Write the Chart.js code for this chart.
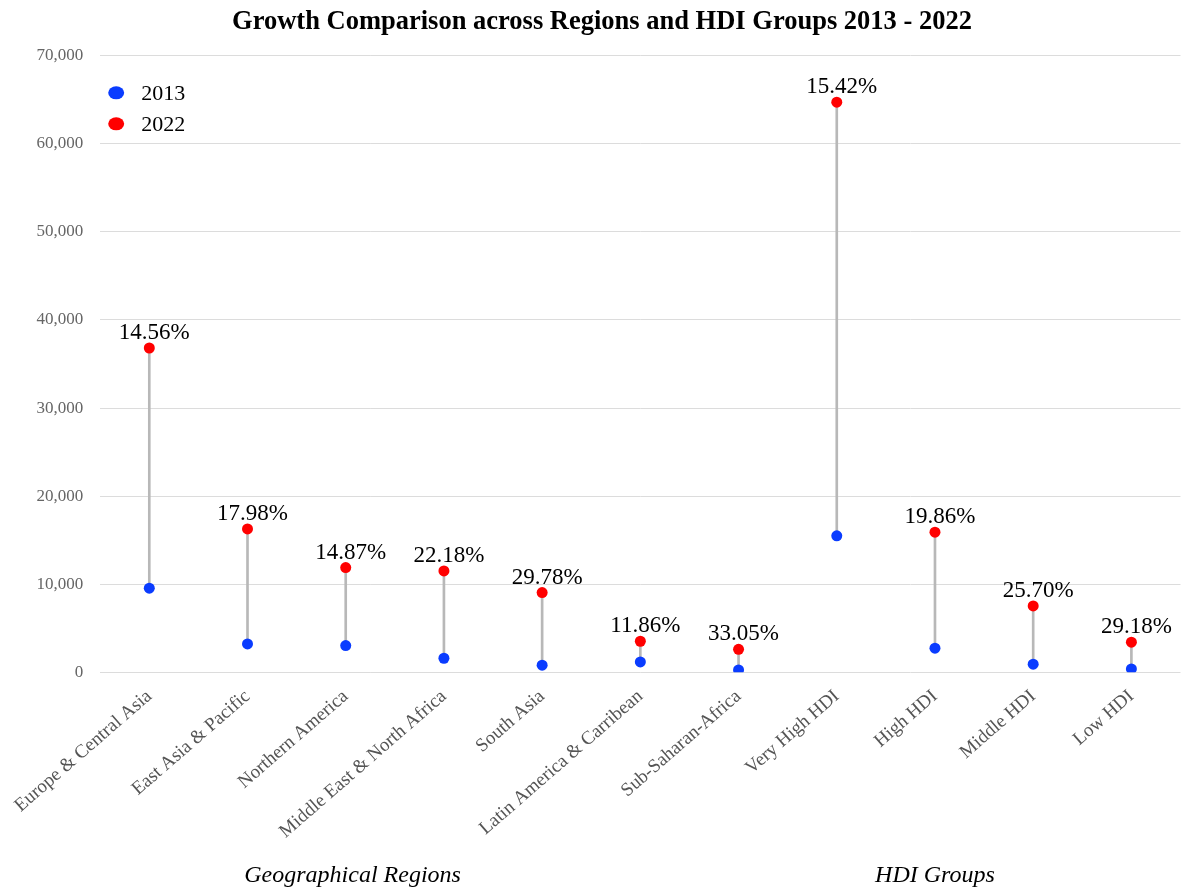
<!DOCTYPE html>
<html>
<head>
<meta charset="utf-8">
<script src="https://cdn.jsdelivr.net/npm/chart.js@4.4.1/dist/chart.umd.min.js"></script>
<style>
body{margin:0;background:#fff}
#wrap{width:1186px;height:889px}
</style>
</head>
<body>
<div id="wrap"><canvas id="cv" width="1186" height="889"></canvas></div>
<script>
// daten
const categories = ["Europe & Central Asia", "East Asia & Pacific", "Northern America", "Middle East & North Africa",
    "South Asia", "Latin America & Carribean", "Sub-Saharan-Africa", "Very High HDI", "High HDI", "Middle HDI", "Low HDI"];
const values2013 = [9550, 3220, 3030, 1590, 800, 1170, 260, 15490, 2730, 910, 380];
const values2022 = [36820, 16280, 11890, 11510, 9050, 3520, 2610, 64730, 15910, 7530, 3410];
const growthLabels = ["14.56%", "17.98%", "14.87%", "22.18%", "29.78%", "11.86%", "33.05%", "15.42%", "19.86%", "25.70%", "29.18%"];
const groupNames = ["Geographical Regions", "HDI Groups"];
const yMax = 70000;
const yStep = 10000;

const serif = "'Liberation Serif', 'Times New Roman', serif";

// legende oben links im chartbereich
const legendPlugin = {
    id: "dotLegend",
    afterDraw(chart){
        const ctx = chart.ctx;
        const a = chart.chartArea;
        let y = a.top + 37;
        ctx.save();
        for(let ds of chart.data.datasets){
            if(ds.type !== "line") continue;
            ctx.fillStyle = ds.pointBackgroundColor;
            ctx.beginPath();
            ctx.ellipse(a.left + 16, y, 8, 6.5, 0, 0, Math.PI * 2);
            ctx.fill();
            ctx.fillStyle = "#000";
            ctx.font = "22px " + serif;
            ctx.textAlign = "left";
            ctx.textBaseline = "middle";
            ctx.fillText(ds.label, a.left + 41, y + 1);
            y += 31;
        }
        ctx.restore();
    }
};

// prozentwerte über den roten punkten + gruppen beschriftung
const labelPlugin = {
    id: "growthLabels",
    afterDatasetsDraw(chart){
        const ctx = chart.ctx;
        const meta = chart.getDatasetMeta(2);
        ctx.save();
        ctx.fillStyle = "#000";
        ctx.font = "23px " + serif;
        ctx.textAlign = "center";
        ctx.textBaseline = "alphabetic";
        meta.data.forEach((pt, i) => {
            ctx.fillText(growthLabels[i], pt.x + 5, pt.y - 9);
        });
        const xs = chart.scales.x;
        ctx.font = "italic 24px " + serif;
        ctx.textBaseline = "middle";
        ctx.fillText(groupNames[0], xs.getPixelForValue(2.07), 876);
        ctx.fillText(groupNames[1], xs.getPixelForValue(8.0), 876);
        ctx.restore();
    }
};

const config = {
    data: {
        labels: categories,
        datasets: [
            {
                type: "bar",
                label: "range",
                data: values2013.map((v, i) => [v, values2022[i]]),
                backgroundColor: "#b8b8b8",
                barThickness: 2,
                order: 3
            },
            {
                type: "line",
                label: "2013",
                data: values2013,
                showLine: false,
                pointRadius: 5.5,
                pointBackgroundColor: "#0a3cff",
                pointBorderWidth: 0,
                order: 1
            },
            {
                type: "line",
                label: "2022",
                data: values2022,
                showLine: false,
                pointRadius: 5.5,
                pointBackgroundColor: "#ff0000",
                pointBorderWidth: 0,
                order: 0
            }
        ]
    },
    options: {
        responsive: false,
        animation: false,
        layout: {padding: {left: 18, right: 0, top: 0, bottom: 33}},
        plugins: {
            legend: {display: false},
            tooltip: {enabled: false},
            title: {
                display: true,
                text: "Growth Comparison across Regions and HDI Groups 2013 - 2022",
                color: "#000",
                font: {family: serif, size: 26.5, weight: "bold"},
                padding: {top: 6, bottom: 18}
            }
        },
        scales: {
            x: {
                offset: true,
                grid: {display: false, drawTicks: false},
                border: {display: false},
                ticks: {
                    color: "#555",
                    font: {family: serif, size: 19},
                    minRotation: 41,
                    maxRotation: 41,
                    autoSkip: false,
                    padding: 13
                },
                afterFit(scale){
                    // gitterlinien bis zum rand
                    scale.paddingRight = 0;
                }
            },
            y: {
                min: 0,
                max: yMax,
                grid: {color: "#dcdcdc", drawTicks: false},
                border: {display: false},
                ticks: {
                    stepSize: yStep,
                    color: "#666",
                    font: {family: serif, size: 17},
                    padding: 17
                }
            }
        }
    },
    plugins: [legendPlugin, labelPlugin]
};

new Chart(document.getElementById("cv").getContext("2d"), config);
</script>
</body>
</html>
